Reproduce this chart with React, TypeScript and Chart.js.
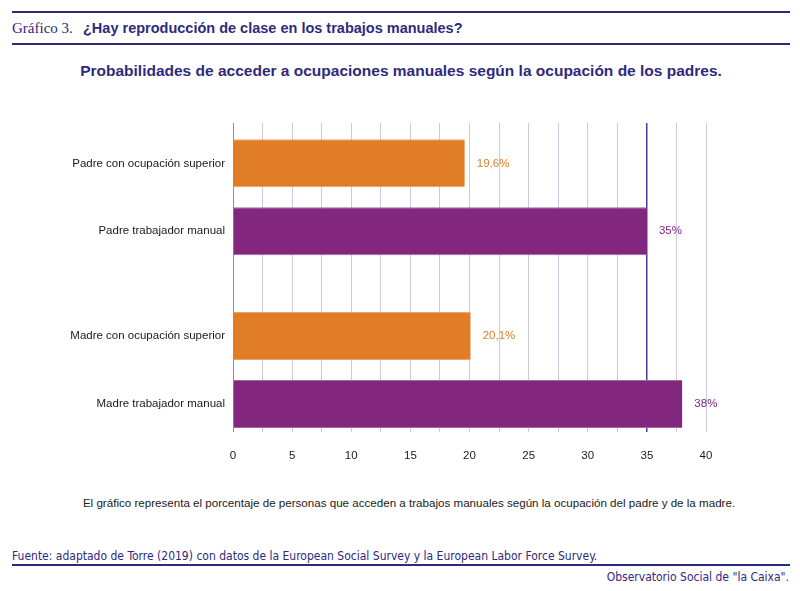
import React, { useEffect, useRef } from 'react';
import Chart from 'chart.js/auto';

const groups = ['Padre', 'Madre'];
const superiorLabels = ['Padre con ocupación superior', 'Madre con ocupación superior'];
const manualLabels = ['Padre trabajador manual', 'Madre trabajador manual'];
const superiorValues = [19.6, 20.1];
const manualValues = [35, 38];
const xTicks = ['0', '5', '10', '15', '20', '25', '30', '35', '40'];
const referenceLine = 35;

const ORANGE = '#e07d26';
const PURPLE = '#83267e';
const INK = '#2f2a7c';

const fmt = (v: number) => String(v).replace('.', ',') + '%';

const labelsPlugin = {
  id: 'barLabels',
  afterDatasetsDraw(chart: any) {
    const ctx = chart.ctx;
    const area = chart.chartArea;
    const rowLabels = [superiorLabels, manualLabels];
    ctx.save();
    ctx.font = '11.5px "Liberation Sans", Arial, sans-serif';
    ctx.textBaseline = 'middle';
    chart.data.datasets.forEach((ds: any, di: number) => {
      const meta = chart.getDatasetMeta(di);
      meta.data.forEach((bar: any, i: number) => {
        ctx.fillStyle = '#1a1a1a';
        ctx.textAlign = 'right';
        ctx.fillText(rowLabels[di][i], area.left - 8, bar.y);
        ctx.fillStyle = ds.backgroundColor;
        ctx.textAlign = 'left';
        ctx.fillText(fmt(ds.data[i].x), bar.x + 12, bar.y);
      });
    });
    ctx.restore();
  },
};

const BarChart: React.FC = () => {
  const chartRef = useRef<HTMLCanvasElement>(null);

  useEffect(() => {
    if (!chartRef.current) return;
    const ctx = chartRef.current.getContext('2d');
    if (!ctx) return;
    const chart = new Chart(ctx, {
      type: 'bar',
      data: {
        datasets: [
          {
            label: 'Ocupación superior',
            data: superiorValues.map((v, i) => ({ x: v, y: i })),
            backgroundColor: ORANGE,
            borderColor: '#eaa56a',
            borderWidth: { top: 1, bottom: 1, right: 0, left: 0 },
            categoryPercentage: 0.786,
            barPercentage: 0.706,
          },
          {
            label: 'Trabajador manual',
            data: manualValues.map((v, i) => ({ x: v, y: i })),
            backgroundColor: PURPLE,
            borderColor: '#a56aa1',
            borderWidth: { top: 1, bottom: 1, right: 0, left: 0 },
            categoryPercentage: 0.786,
            barPercentage: 0.706,
          },
        ] as any,
      },
      options: {
        indexAxis: 'y',
        animation: false,
        responsive: true,
        maintainAspectRatio: false,
        layout: { padding: { left: 233, right: 94, top: 23, bottom: 6 } },
        plugins: {
          legend: { display: false },
          tooltip: { enabled: false },
          title: { display: false },
        },
        scales: {
          x: {
            type: 'linear',
            min: 0,
            max: 40,
            border: { display: false },
            grid: {
              drawTicks: false,
              color: (c: any) =>
                c.tick && c.tick.value === referenceLine
                  ? '#4a3d9e'
                  : c.tick && c.tick.value === 0
                  ? '#8f88c6'
                  : '#cdc8e1',
              lineWidth: (c: any) => (c.tick && c.tick.value === referenceLine ? 1.5 : 1),
            },
            ticks: {
              stepSize: 2.5,
              autoSkip: false,
              maxRotation: 0,
              padding: 17,
              color: '#1a1a1a',
              font: { family: '"Liberation Sans", Arial, sans-serif', size: 11.5 },
              callback: (v: any) => (xTicks.includes(String(v)) ? String(v) : ''),
            },
          },
          y: {
            type: 'linear',
            display: false,
            reverse: true,
            offset: false,
            grid: { offset: false },
            min: -0.43,
            max: groups.length - 1 + 0.36,
            ticks: { stepSize: 1, includeBounds: false },
          },
        },
      },
      plugins: [labelsPlugin],
    } as any);
    return () => {
      chart.destroy();
    };
  }, []);

  return <canvas ref={chartRef} />;
};

const App: React.FC = () => {
  const sans = '"Liberation Sans", Arial, sans-serif';
  const narrow = '"Liberation Sans Narrow", "DejaVu Sans Condensed", "Liberation Sans", sans-serif';
  const rule = (top: number) => (
    <div style={{ position: 'absolute', left: 12, width: 778, top, height: 2, background: INK }} />
  );
  return (
    <div style={{ position: 'absolute', left: 0, top: 0, width: 800, height: 591, background: '#fff', overflow: 'hidden' }}>
      {rule(11)}
      <div style={{ position: 'absolute', left: 12, top: 20, fontFamily: '"Liberation Serif", "DejaVu Serif", serif', fontSize: 15, color: INK, whiteSpace: 'nowrap' }}>
        Gráfico 3.
      </div>
      <div style={{ position: 'absolute', left: 83, top: 20, fontFamily: sans, fontWeight: 'bold', fontSize: 14.5, color: INK, whiteSpace: 'nowrap' }}>
        ¿Hay reproducción de clase en los trabajos manuales?
      </div>
      {rule(43)}
      <div style={{ position: 'absolute', left: 0, width: 802, top: 62, textAlign: 'center', fontFamily: sans, fontWeight: 'bold', fontSize: 15.5, color: INK, whiteSpace: 'nowrap' }}>
        Probabilidades de acceder a ocupaciones manuales según la ocupación de los padres.
      </div>
      <div style={{ position: 'absolute', left: 0, top: 100, width: 800, height: 386 }}>
        <BarChart />
      </div>
      <div style={{ position: 'absolute', left: 0, width: 818, top: 496, textAlign: 'center', fontFamily: sans, fontSize: 11.6, color: '#1a1a1a', whiteSpace: 'nowrap' }}>
        El gráfico representa el porcentaje de personas que acceden a trabajos manuales según la ocupación del padre y de la madre.
      </div>
      <div style={{ position: 'absolute', left: 12, top: 549, fontFamily: narrow, fontSize: 12, color: INK, whiteSpace: 'nowrap' }}>
        Fuente: adaptado de Torre (2019) con datos de la European Social Survey y la European Labor Force Survey.
      </div>
      {rule(564)}
      <div style={{ position: 'absolute', right: 11, top: 570, fontFamily: narrow, fontSize: 12, color: INK, whiteSpace: 'nowrap' }}>
        Observatorio Social de "la Caixa".
      </div>
    </div>
  );
};

export default App;
